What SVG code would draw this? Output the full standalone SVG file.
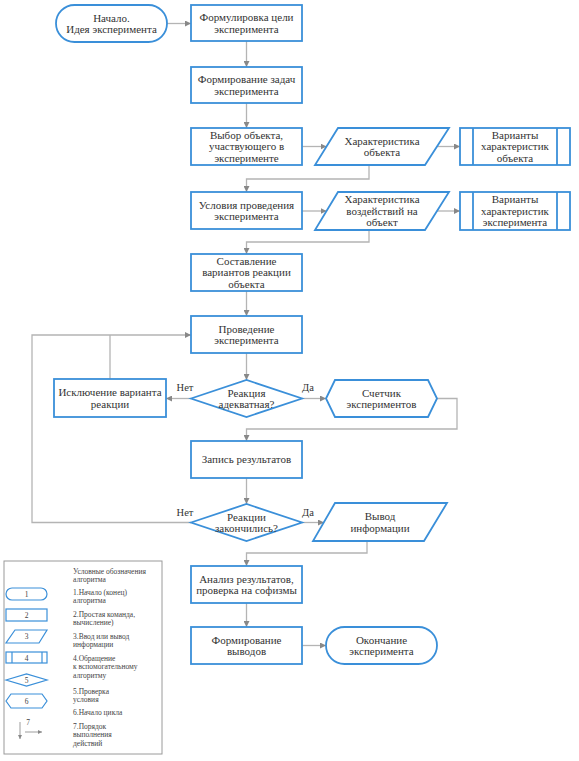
<svg xmlns="http://www.w3.org/2000/svg" width="579" height="761" viewBox="0 0 579 761">
<style>
.nd{fill:#fff;stroke:#3a8fd9;stroke-width:1.8}
.ln{fill:none;stroke:#b4b4b4;stroke-width:1.3}
.t{font-family:"Liberation Serif","Times New Roman",serif;font-size:11px;fill:#333;text-anchor:middle}
.lb{font-family:"Liberation Serif","Times New Roman",serif;font-size:10.5px;fill:#333;text-anchor:middle}
.lg{font-family:"Liberation Serif","Times New Roman",serif;font-size:7.5px;fill:#444}
.lgn{fill:#fff;stroke:#3a8fd9;stroke-width:1.2}
.ln7{font-family:"Liberation Serif","Times New Roman",serif;font-size:7.5px;fill:#444;text-anchor:middle}
</style>
<defs>
<marker id="ar" viewBox="0 0 10 10" refX="10" refY="5" markerWidth="6" markerHeight="6" orient="auto" markerUnits="userSpaceOnUse">
<path d="M0,0 L10,5 L0,10 z" fill="#888"/>
</marker>
<marker id="ars" viewBox="0 0 10 10" refX="10" refY="5" markerWidth="4" markerHeight="4" orient="auto" markerUnits="userSpaceOnUse">
<path d="M0,0 L10,5 L0,10 z" fill="#888"/>
</marker>
</defs>
<rect width="579" height="761" fill="#fff"/>

<g id="connectors">
<path class="ln" d="M167,23.5 H191" marker-end="url(#ar)"/>
<path class="ln" d="M246.5,41 V67" marker-end="url(#ar)"/>
<path class="ln" d="M246.5,103 V128" marker-end="url(#ar)"/>
<path class="ln" d="M302,146.5 H326.5" marker-end="url(#ar)"/>
<path class="ln" d="M437,146.5 H460" marker-end="url(#ar)"/>
<path class="ln" d="M369,165 V179 H246.5 V192" marker-end="url(#ar)"/>
<path class="ln" d="M302,211 H326.5" marker-end="url(#ar)"/>
<path class="ln" d="M437,211 H460" marker-end="url(#ar)"/>
<path class="ln" d="M369,230 V242 H246.5 V254" marker-end="url(#ar)"/>
<path class="ln" d="M246.5,291 V316" marker-end="url(#ar)"/>
<path class="ln" d="M246.5,353 V380" marker-end="url(#ar)"/>
<path class="ln" d="M191,398.5 H166" marker-end="url(#ar)"/>
<path class="ln" d="M302,398.5 H326" marker-end="url(#ar)"/>
<path class="ln" d="M110,379 V335"/>
<path class="ln" d="M437,398.5 H457 V429 H246.5 V441" marker-end="url(#ar)"/>
<path class="ln" d="M246.5,478 V504" marker-end="url(#ar)"/>
<path class="ln" d="M191,522.5 H32 V335 H191" marker-end="url(#ar)"/>
<path class="ln" d="M302,522.5 H324" marker-end="url(#ar)"/>
<path class="ln" d="M367,541 V553 H246.5 V566" marker-end="url(#ar)"/>
<path class="ln" d="M246.5,603 V627" marker-end="url(#ar)"/>
<path class="ln" d="M302,645.5 H326" marker-end="url(#ar)"/>
<text class="lb" x="185" y="391">Нет</text>
<text class="lb" x="308" y="391">Да</text>
<text class="lb" x="185" y="516">Нет</text>
<text class="lb" x="308" y="516">Да</text>
</g>

<g id="start">
<rect class="nd" x="56" y="5" width="111" height="37" rx="18.5"/>
<text class="t" x="111.5" y="21.5">Начало.</text>
<text class="t" x="111.5" y="33">Идея эксперимента</text>
</g>
<g id="n2">
<rect class="nd" x="191" y="5" width="111" height="36"/>
<text class="t" x="246.5" y="21">Формулировка цели</text>
<text class="t" x="246.5" y="32.5">эксперимента</text>
</g>
<g id="n3">
<rect class="nd" x="191" y="67" width="111" height="36"/>
<text class="t" x="246.5" y="83">Формирование задач</text>
<text class="t" x="246.5" y="94.5">эксперимента</text>
</g>
<g id="n4">
<rect class="nd" x="191" y="128" width="111" height="37"/>
<text class="t" x="246.5" y="138.8">Выбор объекта,</text>
<text class="t" x="246.5" y="150.3">участвующего  в</text>
<text class="t" x="246.5" y="161.8">эксперименте</text>
</g>
<g id="p1">
<polygon class="nd" points="338,128 449,128 425,165 315,165"/>
<text class="t" x="382" y="144.5">Характеристика</text>
<text class="t" x="382" y="156">объекта</text>
</g>
<g id="s1">
<rect class="nd" x="460" y="128" width="110" height="37"/>
<line class="nd" x1="473" y1="128" x2="473" y2="165"/>
<line class="nd" x1="557" y1="128" x2="557" y2="165"/>
<text class="t" x="515" y="138.8">Варианты</text>
<text class="t" x="515" y="150.3">характеристик</text>
<text class="t" x="515" y="161.8">объекта</text>
</g>
<g id="n5">
<rect class="nd" x="191" y="192" width="111" height="37"/>
<text class="t" x="246.5" y="208.5">Условия проведения</text>
<text class="t" x="246.5" y="220">эксперимента</text>
</g>
<g id="p2">
<polygon class="nd" points="338,192 449,192 425,230 315,230"/>
<text class="t" x="382" y="203.3">Характеристика</text>
<text class="t" x="382" y="214.8">воздействий на</text>
<text class="t" x="382" y="226.3">объект</text>
</g>
<g id="s2">
<rect class="nd" x="460" y="192" width="110" height="38"/>
<line class="nd" x1="473" y1="192" x2="473" y2="230"/>
<line class="nd" x1="557" y1="192" x2="557" y2="230"/>
<text class="t" x="515" y="203.3">Варианты</text>
<text class="t" x="515" y="214.8">характеристик</text>
<text class="t" x="515" y="226.3">эксперимента</text>
</g>
<g id="n6">
<rect class="nd" x="191" y="254" width="111" height="37"/>
<text class="t" x="246.5" y="264.8">Составление</text>
<text class="t" x="246.5" y="276.3">вариантов реакции</text>
<text class="t" x="246.5" y="287.8">объекта</text>
</g>
<g id="n7">
<rect class="nd" x="191" y="316" width="111" height="37"/>
<text class="t" x="246.5" y="332.5">Проведение</text>
<text class="t" x="246.5" y="344">эксперимента</text>
</g>
<g id="d1">
<polygon class="nd" points="191,398.5 246.5,380 302,398.5 246.5,417"/>
<text class="t" x="246.5" y="396.5">Реакция</text>
<text class="t" x="246.5" y="408">адекватная?</text>
</g>
<g id="n8">
<rect class="nd" x="54" y="379" width="112" height="38"/>
<text class="t" x="110" y="396">Исключение варианта</text>
<text class="t" x="110" y="407.5">реакции</text>
</g>
<g id="h1">
<polygon class="nd" points="326,398.5 335,380 428,380 437,398.5 428,417 335,417"/>
<text class="t" x="381.5" y="396.5">Счетчик</text>
<text class="t" x="381.5" y="408">экспериментов</text>
</g>
<g id="n9">
<rect class="nd" x="191" y="441" width="111" height="37"/>
<text class="t" x="246.5" y="463.3">Запись результатов</text>
</g>
<g id="d2">
<polygon class="nd" points="191,522.5 246.5,504 302,522.5 246.5,541"/>
<text class="t" x="246.5" y="520.5">Реакции</text>
<text class="t" x="246.5" y="532">закончились?</text>
</g>
<g id="p3">
<polygon class="nd" points="335,503 447,503 424,541 313,541"/>
<text class="t" x="380" y="520">Вывод</text>
<text class="t" x="380" y="531.5">информации</text>
</g>
<g id="n10">
<rect class="nd" x="191" y="566" width="111" height="37"/>
<text class="t" x="246.5" y="582.5">Анализ  результатов,</text>
<text class="t" x="246.5" y="594">проверка на софизмы</text>
</g>
<g id="n11">
<rect class="nd" x="191" y="627" width="111" height="37"/>
<text class="t" x="246.5" y="643.5">Формирование</text>
<text class="t" x="246.5" y="655">выводов</text>
</g>
<g id="end">
<rect class="nd" x="326" y="627" width="111" height="37" rx="18.5"/>
<text class="t" x="381.5" y="643.5">Окончание</text>
<text class="t" x="381.5" y="655">эксперимента</text>
</g>

<g id="legend">
<rect x="4" y="561" width="158" height="193" fill="#fff" stroke="#9a9a9a" stroke-width="1"/>
<text class="lg" x="73" y="574">Условные обозначения</text>
<text class="lg" x="73" y="582">алгоритма</text>
<rect class="lgn" x="6" y="588" width="41" height="12" rx="6"/>
<text class="ln7" x="26.5" y="597">1</text>
<text class="lg" x="73" y="595">1.Начало (конец)</text>
<text class="lg" x="73" y="603">алгоритма</text>
<rect class="lgn" x="6" y="609" width="41" height="12"/>
<text class="ln7" x="26.5" y="618">2</text>
<text class="lg" x="73" y="617">2.Простая команда,</text>
<text class="lg" x="73" y="625">вычисление)</text>
<polygon class="lgn" points="15,630 47,630 39,643 6,643"/>
<text class="ln7" x="26.5" y="639">3</text>
<text class="lg" x="73" y="639">3.Ввод или вывод</text>
<text class="lg" x="73" y="647">информации</text>
<rect class="lgn" x="6" y="652" width="41" height="11"/>
<line class="lgn" x1="12" y1="652" x2="12" y2="663"/>
<line class="lgn" x1="42" y1="652" x2="42" y2="663"/>
<text class="ln7" x="26.5" y="660.5">4</text>
<text class="lg" x="73" y="661">4.Обращение</text>
<text class="lg" x="73" y="669">к вспомогательному</text>
<text class="lg" x="73" y="678">алгоритму</text>
<polygon class="lgn" points="6,680 26.5,674 47,680 26.5,686"/>
<text class="ln7" x="26.5" y="683">5</text>
<text class="lg" x="73" y="694">5.Проверка</text>
<text class="lg" x="73" y="702">условия</text>
<polygon class="lgn" points="6,701 11,694 42,694 47,701 42,708 11,708"/>
<text class="ln7" x="26.5" y="704">6</text>
<text class="lg" x="73" y="715">6.Начало цикла</text>
<path class="ln" d="M20,722 V739" marker-end="url(#ars)"/>
<path class="ln" d="M25,732 H42" marker-end="url(#ars)"/>
<text class="ln7" x="28" y="725">7</text>
<text class="lg" x="73" y="729">7.Порядок</text>
<text class="lg" x="73" y="737">выполнения</text>
<text class="lg" x="73" y="746">действий</text>
</g>
</svg>
